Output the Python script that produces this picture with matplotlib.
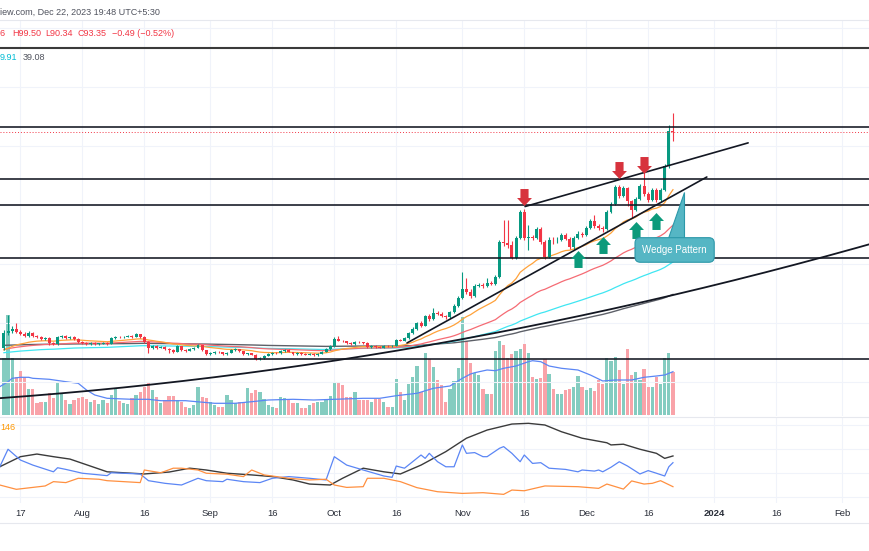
import datetime as dt
import numpy as np
import matplotlib
matplotlib.use("Agg")
import matplotlib.pyplot as plt
import matplotlib.dates as mdates
from matplotlib.path import Path
from matplotlib.patches import Polygon
from matplotlib.transforms import blended_transform_factory

# ---------------- data (daily candles, 13 Jul 2023 .. 22 Dec 2023) ----------------
start = dt.date(2023, 7, 13)

closes = [27.7, 28.3, 29.0, 28.0, 27.3, 26.7, 27.7, 26.7, 26.5, 25.7,
          26.0, 24.4, 24.1, 26.4, 26.7, 26.0, 26.4, 25.7, 24.7, 24.4,
          24.1, 24.4, 24.1, 24.2, 24.4, 24.1, 26.0, 26.4, 26.2, 26.4,
          26.7, 26.4, 27.3, 26.4, 24.7, 22.8, 23.4, 22.8, 23.1, 22.4,
          22.1, 21.5, 23.4, 22.1, 21.9, 22.4, 22.8, 23.7, 22.1, 20.8,
          21.1, 21.5, 21.3, 20.8, 21.1, 22.1, 22.3, 21.8, 20.8, 21.0,
          20.6, 19.2, 19.5, 20.2, 20.8, 21.1, 21.0, 21.8, 22.1, 21.5,
          20.8, 21.1, 20.8, 20.6, 20.8, 20.5, 20.8, 21.5, 22.4, 23.4,
          25.7, 25.1, 24.9, 24.4, 24.1, 24.7, 24.6, 24.4, 23.1, 23.4,
          23.1, 22.8, 23.4, 23.3, 23.4, 25.4, 25.2, 26.0, 27.7, 29.0,
          30.9, 30.0, 33.2, 32.2, 34.2, 33.9, 33.2, 32.9, 34.5, 36.5,
          39.1, 42.0, 41.1, 39.8, 43.0, 43.4, 43.0, 44.0, 43.8, 46.0,
          57.4, 57.1, 56.4, 52.2, 58.7, 67.2, 58.7, 59.0, 58.7, 61.7,
          57.4, 52.5, 58.1, 57.9, 58.1, 59.7, 58.4, 55.8, 58.7, 60.0,
          59.7, 62.0, 64.3, 62.6, 62.0, 61.7, 67.2, 69.8, 75.4, 72.4,
          75.1, 70.8, 67.9, 71.5, 75.7, 73.1, 71.1, 74.4, 71.1, 74.4,
          82.2, 93.84, 93.35]

highs = [28.6, 33.5, 29.9, 30.9, 28.6, 27.9, 28.2, 28.0, 27.1, 26.8,
         26.4, 26.2, 24.8, 26.7, 27.1, 26.9, 26.7, 26.6, 25.9, 24.9,
         24.6, 24.7, 24.6, 24.5, 24.6, 24.6, 26.3, 26.8, 26.6, 26.7,
         27.0, 26.9, 27.6, 27.5, 26.6, 24.9, 23.7, 23.6, 23.4, 23.3,
         22.6, 22.3, 23.7, 23.5, 22.3, 22.6, 23.0, 24.0, 23.9, 22.2,
         21.4, 21.7, 21.7, 21.5, 21.3, 22.4, 22.6, 22.5, 21.9, 21.2,
         21.2, 20.8, 19.8, 20.4, 21.0, 21.3, 21.3, 22.0, 22.4, 22.3,
         21.6, 21.3, 21.3, 21.0, 21.0, 21.0, 21.0, 21.7, 22.6, 23.6,
         26.4, 26.7, 25.3, 25.1, 24.6, 25.0, 24.9, 24.8, 24.6, 23.6,
         23.6, 23.3, 23.6, 23.6, 23.7, 25.7, 25.7, 26.3, 28.0, 29.5,
         31.3, 31.5, 33.6, 33.9, 35.8, 34.8, 34.4, 33.7, 34.9, 37.0,
         39.6, 47.6, 45.6, 42.0, 43.6, 44.0, 44.0, 45.6, 44.6, 46.6,
         58.0, 64.6, 64.6, 57.6, 59.4, 67.9, 68.2, 63.0, 59.8, 62.4,
         62.2, 57.9, 59.0, 59.2, 59.0, 60.4, 60.3, 58.9, 59.3, 61.0,
         60.7, 62.6, 65.0, 66.2, 63.4, 62.6, 67.8, 70.4, 76.0, 76.0,
         75.8, 75.5, 71.2, 72.0, 76.3, 80.3, 73.8, 75.0, 75.1, 74.9,
         82.9, 95.6, 99.50]

lows = [22.1, 27.0, 27.8, 27.6, 26.9, 26.2, 26.4, 26.4, 26.0, 25.4,
        25.4, 23.9, 23.6, 23.9, 26.1, 25.7, 25.8, 25.4, 24.4, 24.0,
        23.7, 23.9, 23.8, 23.9, 24.0, 23.8, 24.0, 25.8, 25.9, 26.0,
        26.2, 26.1, 26.2, 26.0, 24.3, 21.1, 22.4, 22.5, 22.6, 22.1,
        21.2, 21.2, 21.3, 21.9, 21.6, 21.7, 22.2, 22.6, 21.9, 20.6,
        20.6, 20.9, 21.1, 20.6, 20.6, 21.0, 21.9, 21.6, 20.6, 20.6,
        20.4, 18.8, 19.0, 19.3, 20.0, 20.6, 20.8, 20.9, 21.6, 21.3,
        20.6, 20.6, 20.6, 20.4, 20.5, 20.3, 20.3, 20.7, 21.4, 22.2,
        23.2, 24.9, 24.6, 24.1, 23.8, 23.9, 24.3, 24.1, 22.9, 22.9,
        22.9, 22.6, 22.7, 23.0, 23.1, 23.3, 24.9, 25.0, 25.8, 27.4,
        28.8, 29.6, 29.8, 31.7, 32.0, 33.4, 32.8, 32.4, 32.6, 34.2,
        36.2, 38.8, 40.4, 39.2, 39.5, 42.6, 42.4, 42.7, 43.2, 43.5,
        45.7, 56.2, 55.3, 51.8, 51.9, 58.3, 58.2, 54.8, 57.9, 58.3,
        56.8, 52.0, 52.2, 56.9, 57.2, 57.8, 57.9, 55.2, 54.8, 58.3,
        59.1, 59.4, 61.6, 62.0, 61.2, 60.6, 61.3, 66.8, 69.4, 71.8,
        72.0, 69.2, 65.2, 67.4, 71.1, 72.5, 70.5, 70.7, 70.4, 70.6,
        74.0, 81.7, 90.34]

open_first = 22.8
opens = [open_first] + closes[:-1]          # 24/7 market: open = previous close

volumes = [5.7, 10.0, 5.7, 3.8, 4.4, 3.8, 2.6, 2.6, 1.2, 1.3,
           1.3, 2.2, 1.7, 3.2, 2.2, 1.5, 1.1, 1.5, 1.7, 1.8,
           1.6, 1.3, 1.5, 1.1, 1.5, 1.2, 2.0, 2.6, 1.4, 1.2,
           1.1, 1.7, 2.0, 2.3, 2.8, 3.2, 2.5, 1.8, 1.2, 1.5,
           1.9, 1.9, 1.5, 1.3, 0.8, 0.7, 1.0, 2.8, 1.8, 1.7,
           1.3, 1.0, 0.8, 0.8, 2.0, 1.5, 1.2, 1.3, 1.2, 2.7,
           2.2, 2.5, 2.3, 1.6, 1.0, 0.8, 0.7, 1.8, 1.7, 1.6,
           1.2, 1.2, 0.7, 0.7, 1.0, 1.2, 1.3, 1.3, 1.6, 1.9,
           3.3, 3.2, 3.0, 1.8, 1.8, 2.3, 1.5, 1.5, 1.5, 1.3,
           1.6, 1.6, 1.3, 0.8, 0.8, 3.6, 2.3, 1.5, 3.1, 3.8,
           4.9, 2.3, 6.2, 5.6, 4.8, 3.5, 3.0, 1.3, 2.6, 3.4,
           4.7, 9.8, 7.4, 5.2, 4.2, 4.0, 2.6, 2.1, 2.1, 6.4,
           7.4, 7.0, 5.7, 6.1, 6.4, 6.6, 7.1, 6.2, 3.8, 3.6,
           3.7, 5.6, 4.1, 2.6, 2.1, 2.1, 2.5, 2.6, 2.8, 3.9,
           2.8, 2.5, 2.7, 2.4, 3.5, 3.1, 5.7, 5.4, 5.8, 4.5,
           3.1, 6.6, 4.0, 4.3, 3.5, 4.6, 2.8, 2.8, 3.8, 3.1,
           5.7, 6.2, 4.3]

# volume moving average: day offset from start, value
vol_ma_day = [-1, 1, 2, 4, 6, 7, 11, 15, 18, 20, 22, 25, 31, 35, 38, 44, 51, 56, 60, 64,
              70, 75, 80, 87, 91, 95, 100, 104, 108, 111, 113, 114, 117, 119, 121, 124,
              127, 128, 130, 132, 135, 139, 142, 145, 148, 152, 155, 158, 160, 162]
vol_ma = [2.83, 3.33, 3.67, 3.77, 3.77, 3.67, 3.57, 3.33, 3.17, 2.5, 2.0, 1.67, 1.57, 1.57,
          1.43, 1.43, 1.17, 1.17, 1.33, 1.5, 1.57, 1.5, 1.57, 1.67, 1.67, 1.93, 2.17, 2.67,
          2.9, 3.67, 4.1, 4.23, 4.5, 4.43, 4.67, 4.9, 5.33, 5.43, 5.33, 4.9, 4.67, 4.5, 4.0,
          3.4, 3.5, 3.5, 3.77, 3.9, 4.0, 4.33]

# moving-average starting values (read at the left edge)
ema_seeds = {20: 21.5, 50: 22.1, 100: 21.1, 200: 23.6}

# DMI pane: day offset, value
adx_day = [-1, 4, 8, 12, 16, 25, 31, 34, 40, 45, 49, 54, 60, 65, 70, 74, 79, 82, 87, 92, 96,
           101, 107, 112, 117, 123, 127, 131, 135, 140, 146, 147, 150, 154, 158, 160, 162]
adx = [22.6, 26.8, 27.9, 26.8, 25.8, 20.5, 19.9, 19.6, 20.4, 22.0, 21.25, 19.9, 19.2, 18.5,
       17.1, 15.4, 15.0, 17.8, 22.0, 20.5, 19.6, 23.3, 28.9, 34.5, 37.9, 40.4, 40.7, 40.0,
       37.2, 34.5, 32.6, 31.7, 32.0, 29.9, 28.2, 26.1, 27.1]
pdi_day = [-1, 1, 4, 7, 12, 13, 15, 19, 25, 26, 33, 35, 39, 43, 47, 49, 53, 54, 58, 62, 65, 69,
           74, 78, 80, 83, 87, 92, 94, 95, 97, 101, 102, 103, 105, 107, 109, 111, 112, 114,
           116, 117, 120, 121, 123, 125, 126, 128, 130, 132, 136, 139, 140, 143, 144, 145,
           147, 149, 151, 154, 156, 158, 160, 161, 162]
pdi = [22.6, 29.9, 25.4, 23.3, 20.5, 22.2, 21.5, 19.9, 18.9, 20.1, 19.6, 16.8, 15.7, 15.0,
       17.8, 16.8, 16.4, 17.4, 16.4, 16.0, 17.8, 18.5, 17.8, 17.1, 26.8, 23.3, 21.25, 18.75,
       18.2, 22.9, 22.0, 27.5, 26.1, 28.2, 24.7, 22.6, 22.6, 31.7, 28.2, 28.5, 26.8, 26.8,
       30.3, 31.0, 28.2, 24.7, 27.5, 24.0, 24.3, 22.0, 21.5, 20.5, 21.25, 20.8, 21.25, 20.5,
       22.4, 24.7, 22.9, 19.6, 21.0, 19.9, 18.75, 22.6, 24.3]
mdi_day = [-1, 3, 7, 10, 12, 15, 18, 23, 25, 33, 34, 38, 41, 43, 47, 49, 54, 58, 60, 63, 69,
           74, 78, 80, 83, 87, 88, 92, 96, 100, 105, 111, 116, 121, 123, 126, 131, 139, 144,
           146, 150, 152, 155, 157, 159, 162]
mdi = [15.0, 13.2, 14.0, 14.6, 16.4, 16.0, 17.8, 17.4, 16.8, 16.0, 21.25, 20.1, 22.0, 22.0,
       21.25, 19.9, 19.5, 18.5, 21.25, 19.2, 17.8, 17.1, 17.4, 15.0, 14.0, 14.3, 17.8, 17.8,
       16.4, 13.9, 12.2, 11.5, 11.8, 11.1, 12.9, 12.6, 14.6, 14.3, 13.6, 15.4, 13.3, 16.7,
       15.4, 15.7, 16.8, 14.3]

# drawings
levels = [120.8, 95.0, 78.0, 69.5, 52.2, 19.2]
upper_wedge = [(126.2, 69.0), (180.2, 89.8)]
lower_wedge = [(97.6, 24.4), (170.2, 78.65)]
arc_day = [-0.94, 37.8, 81.4, 111.2, 135.4, 158.9, 209.7]
arc_price = [6.09, 11.33, 19.5, 25.7, 31.9, 38.45, 57.08]
up_arrow_day = [139, 145, 153, 158]
up_arrow_price = [52.0, 56.4, 61.3, 64.4]
down_arrow_day = [126, 149, 155]
down_arrow_price = [72.0, 80.9, 82.7]
callout_day, callout_price = 162.4, 54.8
callout_tail = [(160.8, 58.7), (164.7, 58.7), (164.7, 73.7)]

tick_dates = [dt.date(2023, 7, 17), dt.date(2023, 8, 1), dt.date(2023, 8, 16),
              dt.date(2023, 9, 1), dt.date(2023, 9, 16), dt.date(2023, 10, 1),
              dt.date(2023, 10, 16), dt.date(2023, 11, 1), dt.date(2023, 11, 16),
              dt.date(2023, 12, 1), dt.date(2023, 12, 16), dt.date(2024, 1, 1),
              dt.date(2024, 1, 16), dt.date(2024, 2, 1)]
tick_labels = ["17", "Aug", "16", "Sep", "16", "Oct", "16", "Nov", "16", "Dec", "16",
               "2024", "16", "Feb"]
price_grid = [11.65, 30.93, 50.22, 69.5, 88.78, 108.06, 127.34]
dmi_grid = [10, 20, 30, 40]

# ---------------- styling ----------------
GREEN, RED = "#089981", "#f23645"
W, H = 870, 551
plt.rcParams["font.family"] = ["Liberation Sans", "DejaVu Sans"]

fig = plt.figure(figsize=(W / 100, H / 100), dpi=100, facecolor="white")

def fy(ypx):
    return 1 - ypx / H

main_rect = [0, fy(416), 1, (416 - 21) / H]
ax_vol = fig.add_axes(main_rect)
ax = fig.add_axes(main_rect)
ax.patch.set_alpha(0)
ax_low = fig.add_axes([0, fy(503), 1, (503 - 418) / H])

t0 = mdates.date2num(start)
xlim = (t0 - 0.944, t0 + 209.71)
for a in (ax_vol, ax, ax_low):
    a.set_xlim(*xlim)
    a.set_axis_off()
ax.set_ylim(0.54, 129.63)
ax_vol.set_ylim(-0.1, 39.4)
ax_low.set_ylim(7.5, 42.92)

n = len(closes)
x = t0 + np.arange(n)
o = np.array(opens); c = np.array(closes)
hi = np.array(highs); lo = np.array(lows)
up = c >= o
cols = np.where(up, GREEN, RED)

# grid
tick_x = mdates.date2num(tick_dates)
for tx in tick_x:
    ax_vol.axvline(tx, color="#f0f3fa", lw=0.8, zorder=0)
    ax_low.axvline(tx, color="#f0f3fa", lw=0.8, zorder=0)
for g in price_grid:
    ax.axhline(g, color="#f0f3fa", lw=0.8, zorder=0)
for g in dmi_grid:
    ax_low.axhline(g, color="#f0f3fa", lw=0.8, zorder=0)

# volume
vcols = np.where(up, "#84ccc0", "#f9a3a9")
ax_vol.bar(x, volumes, width=0.78, color=vcols, linewidth=0, zorder=1)
ax_vol.plot(t0 + np.array(vol_ma_day), vol_ma, color="#5b86f5", lw=0.9, zorder=2)

# moving averages
def ema(vals, span, seed):
    a = 2.0 / (span + 1)
    out, e = [], seed
    for v in vals:
        e = e + a * (v - e)
        out.append(e)
    return np.array(out)

ax.plot(x, ema(closes, 200, ema_seeds[200]), color="#5d6068", lw=1.0, zorder=2)
ax.plot(x, ema(closes, 100, ema_seeds[100]), color="#3fe6f2", lw=0.9, zorder=2)
ax.plot(x, ema(closes, 50, ema_seeds[50]), color="#f56b74", lw=0.9, zorder=2)
ax.plot(x, ema(closes, 20, ema_seeds[20]), color="#ffa23a", lw=0.9, zorder=2)

# candles
ax.vlines(x, lo, hi, colors=cols, lw=0.8, zorder=3)
ax.bar(x, np.maximum(np.abs(c - o), 0.2), bottom=np.minimum(o, c), width=0.72,
       color=cols, linewidth=0, zorder=4)

# horizontal levels and current price
for i, lv in enumerate(levels):
    ax.axhline(lv, color="#3a3a3a" if i == 0 else "#131722",
               lw=1.5 if i == 0 else 1.15, zorder=5)
ax.axhline(closes[-1], color=RED, lw=0.7, ls=(0, (1, 2)), zorder=5)

# trend lines
for (d1, p1), (d2, p2) in (upper_wedge, lower_wedge):
    ax.plot([t0 + d1, t0 + d2], [p1, p2], color="#131722", lw=1.2,
            solid_capstyle="round", zorder=5)
coef = np.polyfit(arc_day, arc_price, 2)
dd = np.linspace(arc_day[0], arc_day[-1], 200)
ax.plot(t0 + dd, np.polyval(coef, dd), color="#131722", lw=1.3, zorder=5)

# arrows
up_path = Path([(0, 0.5), (0.44, 0.03), (0.24, 0.03), (0.24, -0.5), (-0.24, -0.5),
                (-0.24, 0.03), (-0.44, 0.03), (0, 0.5)])
down_path = Path([(vx, -vy) for vx, vy in up_path.vertices])
ax.plot(t0 + np.array(up_arrow_day), up_arrow_price, ls="none", marker=up_path,
        markersize=12.2, color="#0b9a7b", markeredgewidth=0, zorder=6)
ax.plot(t0 + np.array(down_arrow_day), down_arrow_price, ls="none", marker=down_path,
        markersize=12.2, color="#d7333d", markeredgewidth=0, zorder=6)

# callout
tail = Polygon([(t0 + d, p) for d, p in callout_tail], closed=True,
               fc="#55b6c4", ec="#2c98a9", lw=0.8, zorder=7)
ax.add_patch(tail)
ax.text(t0 + callout_day, callout_price, "Wedge Pattern", ha="center", va="center",
        fontsize=7, color="white", zorder=8,
        bbox=dict(boxstyle="round,pad=0.75,rounding_size=0.55", fc="#55b6c4",
                  ec="#2c98a9", lw=0.8))

# DMI pane
ax_low.plot(t0 + np.array(adx_day), adx, color="#3b3b3b", lw=1.0, zorder=3)
ax_low.plot(t0 + np.array(pdi_day), pdi, color="#5b86f5", lw=0.9, zorder=3)
ax_low.plot(t0 + np.array(mdi_day), mdi, color="#ff9040", lw=0.9, zorder=3)

# date labels
btr = blended_transform_factory(ax_low.transData, fig.transFigure)
for tx, lab in zip(tick_x, tick_labels):
    ax_low.text(tx, fy(513), lab, transform=btr, ha="center", va="center", fontsize=6.8,
                color="#2a2e39", fontweight="bold" if lab == "2024" else "normal",
                clip_on=False)

# header and legends
fig.text(0.0, fy(12), "iew.com, Dec 22, 2023 19:48 UTC+5:30", ha="left", va="center",
         fontsize=6.5, color="#50535e")
for xp, s in [(0, "6"), (12, "H99.50"), (45, "L90.34"), (78, "C93.35"),
              (112, "\u22120.49 (\u22120.52%)")]:
    fig.text(xp / W, fy(33), s, ha="left", va="center", fontsize=6.5, color=RED)
fig.text(0.0, fy(58), "9.91", ha="left", va="center", fontsize=6.5, color="#00bcd4")
fig.text(23 / W, fy(58), "39.08", ha="left", va="center", fontsize=6.5, color="#50535e")
fig.text(0.0, fy(427), "146", ha="left", va="center", fontsize=6.5, color="#ff9800")

# separators
for ypx in (20, 417, 523):
    fig.add_artist(plt.Line2D([0, 1], [fy(ypx), fy(ypx)], color="#e6e8ee", lw=0.8))

fig.savefig("out.png", dpi=100, facecolor="white")
